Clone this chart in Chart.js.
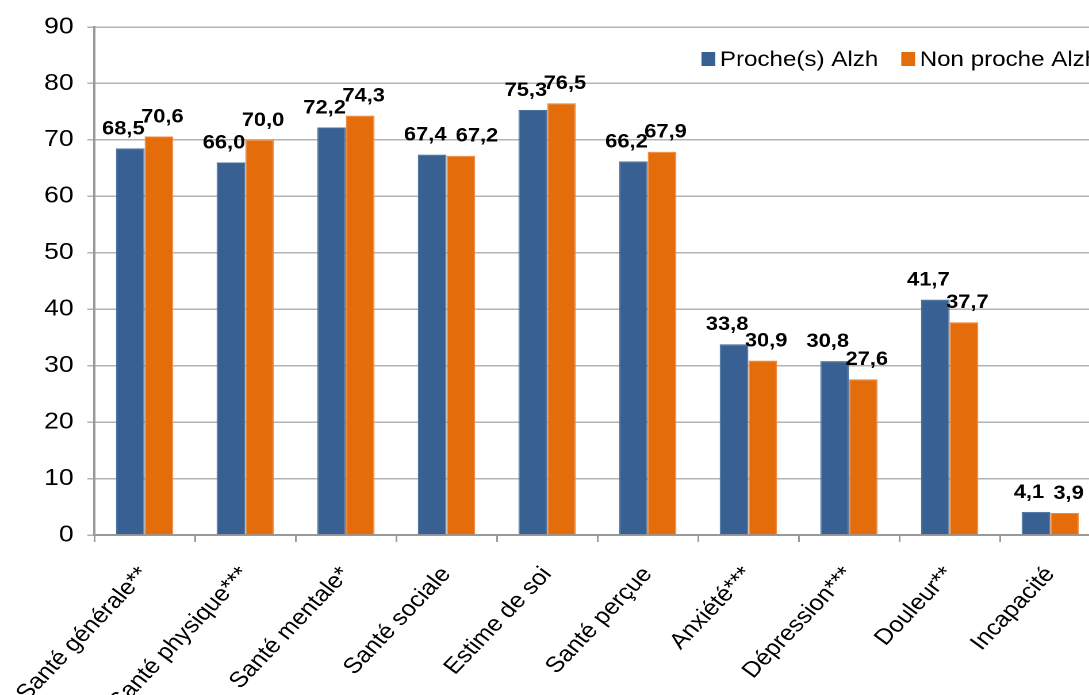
<!DOCTYPE html>
<html lang="fr">
<head>
<meta charset="utf-8">
<title>Proche(s) Alzh / Non proche Alzh</title>
<script src="https://cdn.jsdelivr.net/npm/chart.js@4.4.1/dist/chart.umd.min.js"></script>
<style>
  html, body { margin: 0; padding: 0; background: #fff; overflow: hidden; }
  body { width: 1089px; height: 695px; }
  /* the reference is a bit stretched sideways, so the whole canvas is too */
  #wrap { width: 960px; height: 695px; transform: scaleX(1.15); transform-origin: 0 0; }
</style>
</head>
<body>
<div id="wrap"><canvas id="myChart"></canvas></div>
<script>
const categories = [
  "Santé générale**", "Santé physique***", "Santé mentale*", "Santé sociale",
  "Estime de soi", "Santé perçue", "Anxiété***", "Dépression***", "Douleur**", "Incapacité"
];
const procheAlzh = [68.5, 66.0, 72.2, 67.4, 75.3, 66.2, 33.8, 30.8, 41.7, 4.1];
const nonProcheAlzh = [70.6, 70.0, 74.3, 67.2, 76.5, 67.9, 30.9, 27.6, 37.7, 3.9];
const seriesNames = ["Proche(s) Alzh", "Non proche Alzh"];
const yMin = 0;
const yMax = 90;
const yStep = 10;

const BLUE = "#386092";
const ORANGE = "#e46c0a";
const FONT = '"Liberation Sans", Arial, sans-serif';

Chart.defaults.font.family = FONT;
Chart.defaults.color = "#000";

const fmt = (v) => v.toFixed(1).replace(".", ",");

// value labels above the bars, blue ones pushed left, orange ones right,
// and the orange one moved further when both sit at the same height
const valueLabels = {
  id: "valueLabels",
  afterDatasetsDraw(chart) {
    const ctx = chart.ctx;
    ctx.save();
    ctx.font = "bold 19px " + FONT;
    ctx.fillStyle = "#000";
    ctx.textAlign = "center";
    ctx.textBaseline = "alphabetic";
    const blue = chart.getDatasetMeta(0).data;
    const orange = chart.getDatasetMeta(1).data;
    const dsA = chart.data.datasets[0].data;
    const dsB = chart.data.datasets[1].data;
    blue.forEach((bar, j) => {
      const tA = fmt(dsA[j]);
      const tB = fmt(dsB[j]);
      const xA = bar.x - 6;
      let xB = orange[j].x + 3;
      const rightA = xA + ctx.measureText(tA).width / 2;
      const leftB = xB - ctx.measureText(tB).width / 2;
      if (Math.abs(bar.y - orange[j].y) < 5 && rightA + 8 > leftB) {
        xB += rightA + 8 - leftB;
      }
      ctx.fillText(tA, xA, bar.y - 14);
      ctx.fillText(tB, xB, orange[j].y - 14);
    });
    ctx.restore();
  },
};

// legend sitting inside the plot, top right
const insideLegend = {
  id: "insideLegend",
  afterDraw(chart) {
    const ctx = chart.ctx;
    ctx.save();
    ctx.font = "21px " + FONT;
    ctx.textBaseline = "middle";
    ctx.textAlign = "left";
    let x = 610;
    const y = 59;
    chart.data.datasets.forEach((ds) => {
      ctx.fillStyle = ds.backgroundColor;
      ctx.fillRect(x, y - 7, 12, 14);
      x += 16;
      ctx.fillStyle = "#000";
      ctx.fillText(ds.label, x, y + 1);
      x += ctx.measureText(ds.label).width + 20;
    });
    ctx.restore();
  },
};

const canvas = document.getElementById("myChart");
new Chart(canvas, {
  type: "bar",
  data: {
    labels: categories,
    datasets: [
      { label: seriesNames[0], data: procheAlzh, backgroundColor: BLUE, borderColor: "#4a70a0", borderWidth: 1 },
      { label: seriesNames[1], data: nonProcheAlzh, backgroundColor: ORANGE, borderColor: "#f08a3c", borderWidth: 1 },
    ],
  },
  options: {
    responsive: true,
    maintainAspectRatio: false,
    animation: false,
    devicePixelRatio: 2,
    layout: { padding: { top: 27, right: 3, bottom: 0, left: 0 } },
    datasets: { bar: { categoryPercentage: 0.57, barPercentage: 1 } },
    plugins: {
      legend: { display: false },
      tooltip: { enabled: false },
    },
    scales: {
      x: {
        grid: { drawOnChartArea: false, drawTicks: true, tickLength: 7, color: "#999", lineWidth: 1.5, offset: true },
        border: { color: "#999", width: 2 },
        ticks: { font: { size: 22 }, color: "#000", minRotation: 50, maxRotation: 50, padding: 20, autoSkip: false },
        afterFit(scale) {
          scale.height = 160;
          // let the first rotated label run off to the left instead of pushing the plot
          scale.paddingLeft = 0;
          scale.paddingRight = 0;
        },
      },
      y: {
        min: yMin,
        max: yMax,
        grid: { color: "#b3b3b3", lineWidth: 1.5, tickLength: 6 },
        border: { color: "#999", width: 2 },
        ticks: { stepSize: yStep, font: { size: 23 }, color: "#000", padding: 12 },
        afterFit(scale) { scale.width = 82; },
      },
    },
  },
  plugins: [valueLabels, insideLegend],
});
</script>
</body>
</html>
